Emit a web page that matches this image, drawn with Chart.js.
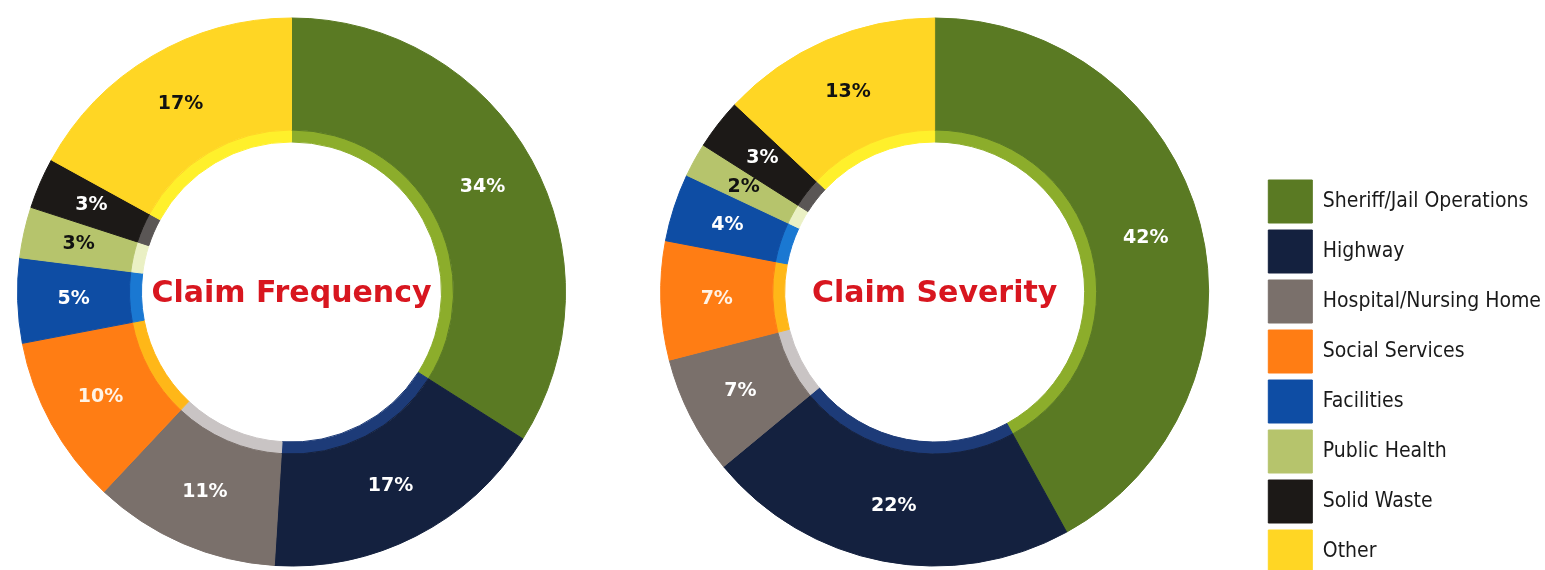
<!doctype html>
<html lang="en">

<head>
	<meta charset="utf-8">
	<title>Claim Frequency and Severity</title>
	<style>
		* {
			margin: 0;
			padding: 0;
		}

		body {
			width: 1545px;
			height: 570px;
			overflow: hidden;
			background: white;
		}

		.chartBox {
			position: absolute;
			top: 0;
			height: 580px;
		}

		#freqBox {
			left: 0;
			width: 583px;
		}

		#sevBox {
			left: 608px;
			width: 943px;
		}
	</style>
</head>

<body>
	<div class="chartBox" id="freqBox"><canvas id="freqChart"></canvas></div>
	<div class="chartBox" id="sevBox"><canvas id="sevChart"></canvas></div>

	<script src="https://cdn.jsdelivr.net/npm/chart.js"></script>
	<script>
		// data
		const categories = [
			'Sheriff/Jail Operations',
			'Highway',
			'Hospital/Nursing Home',
			'Social Services',
			'Facilities',
			'Public Health',
			'Solid Waste',
			'Other'
		];
		const frequencyValues = [34, 17, 11, 10, 5, 3, 3, 17];
		const severityValues = [42, 22, 7, 7, 4, 2, 3, 13];

		// styles
		const mainColors = ['#5a7a23', '#14213f', '#7a706b', '#ff7d14', '#0e4da4', '#b6c46c', '#1c1917', '#ffd624'];
		const bandColors = ['#8cad2b', '#1d3b78', '#c9c4c4', '#ffb718', '#1a78d2', '#eaf0c4', '#5a5655', '#fff02b'];
		const labelColors = ['#ffffff', '#ffffff', '#ffffff', '#fff3e6', '#ffffff', '#111111', '#ffffff', '#111111'];

		const titleFont = 'bold 30px "DejaVu Sans", sans-serif';
		const pctFont = 'bold 19px "DejaVu Sans", sans-serif';

		// draws the % labels and the title in the hole
		const ringText = {
			id: 'ringText',
			afterDatasetsDraw(chart, args, opts) {
				const ctx = chart.ctx;
				const meta = chart.getDatasetMeta(0);
				const values = chart.data.datasets[0].data;
				ctx.save();
				ctx.textAlign = 'center';
				ctx.textBaseline = 'middle';
				ctx.font = pctFont;
				meta.data.forEach((arc, i) => {
					const pos = arc.tooltipPosition();
					ctx.fillStyle = labelColors[i];
					ctx.fillText(values[i] + '%', pos.x, pos.y);
				});
				const c = meta.data[0];
				ctx.font = titleFont;
				ctx.fillStyle = '#d8161f';
				ctx.fillText(opts.title, c.x, c.y + 2);
				ctx.restore();
			}
		};

		function makeConfig(values, title, showLegend) {
			return {
				type: 'doughnut',
				data: {
					labels: categories,
					datasets: [{
						data: values,
						backgroundColor: mainColors,
						borderColor: mainColors,
						borderWidth: 1,
						weight: 112
					}, {
						data: values,
						backgroundColor: bandColors,
						borderColor: bandColors,
						borderWidth: 1,
						weight: 12
					}]
				},
				options: {
					responsive: true,
					maintainAspectRatio: false,
					animation: false,
					radius: 274,
					cutout: '54.75%',
					layout: {
						padding: { top: 4 }
					},
					plugins: {
						tooltip: { enabled: false },
						ringText: { title },
						legend: {
							display: showLegend,
							position: 'right',
							align: 'end',
							labels: {
								boxWidth: 44,
								boxHeight: 43,
								padding: 7,
								color: '#1a1a1a',
								font: {
									family: '"DejaVu Sans Condensed", "Liberation Sans Narrow", Roboto, sans-serif',
									size: 21
								}
							}
						}
					}
				},
				plugins: [ringText]
			};
		}

		new Chart(document.getElementById('freqChart'), makeConfig(frequencyValues, 'Claim Frequency', false));
		new Chart(document.getElementById('sevChart'), makeConfig(severityValues, 'Claim Severity', true));
	</script>
</body>

</html>
